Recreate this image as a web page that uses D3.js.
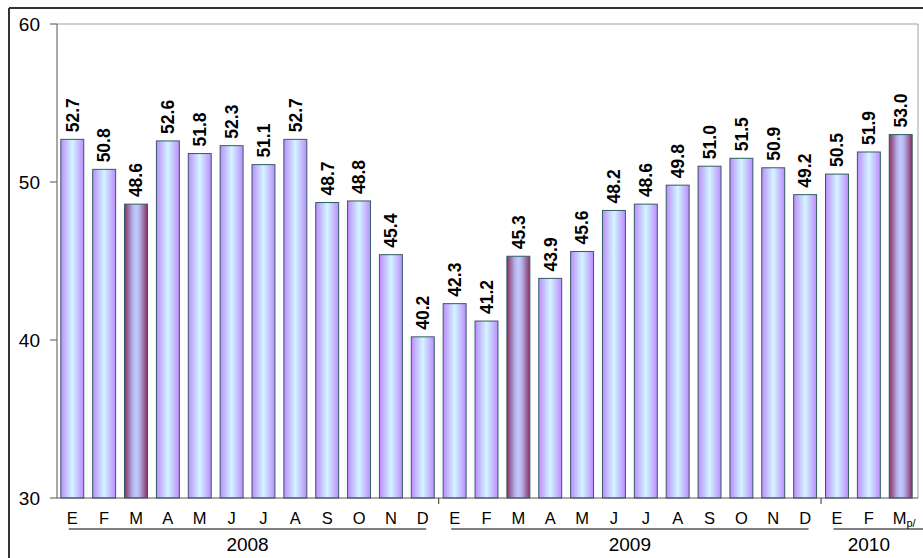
<!DOCTYPE html>
<html lang="en">
<head>
    <meta charset="UTF-8">
    <title>Bar Chart 2008-2010</title>
    <script src="https://d3js.org/d3.v7.min.js"></script>
    <style>
        body { margin: 0; background: #fff; }
        svg { display: block; font-family: "Liberation Sans", Arial, sans-serif; }
        .value-label { font-size: 17.5px; font-weight: bold; fill: #000; }
        .month-label { font-size: 16.5px; fill: #000; }
        .year-label { font-size: 19px; fill: #000; }
        .y-tick text { font-size: 19px; fill: #000; }
    </style>
</head>
<body>
<svg width="923" height="558"></svg>
<script>
    // Data
    const months = ["E","F","M","A","M","J","J","A","S","O","N","D",
                    "E","F","M","A","M","J","J","A","S","O","N","D",
                    "E","F","M"];
    const values = [52.7, 50.8, 48.6, 52.6, 51.8, 52.3, 51.1, 52.7, 48.7, 48.8, 45.4, 40.2,
                    42.3, 41.2, 45.3, 43.9, 45.6, 48.2, 48.6, 49.8, 51.0, 51.5, 50.9, 49.2,
                    50.5, 51.9, 53.0];
    const highlighted = [2, 14, 26];
    const years = ["2008", "2009", "2010"];
    const yearStart = [0, 12, 24];
    const yearCount = [12, 12, 3];
    const yTicks = [30, 40, 50, 60];

    const svg = d3.select("svg");
    const plotLeft = 57, plotRight = 916, plotTop = 24, plotBottom = 498;

    const x = d3.scaleBand()
        .domain(d3.range(values.length))
        .range([plotLeft, plotRight])
        .paddingInner(0.28)
        .paddingOuter(0.12);
    const y = d3.scaleLinear().domain([30, 60]).range([plotBottom, plotTop]);

    // Gradients (horizontal, light centre)
    const defs = svg.append("defs");
    function addGradient(id, stops) {
        const g = defs.append("linearGradient").attr("id", id)
            .attr("x1", "0%").attr("x2", "100%").attr("y1", "0%").attr("y2", "0%");
        stops.forEach(s => g.append("stop").attr("offset", s[0]).attr("stop-color", s[1]));
    }
    addGradient("gNormal", [["0%", "#bd8cff"], ["50%", "#d2f6ff"], ["100%", "#bd8cff"]]);
    addGradient("gHi", [["0%", "#883062"], ["35%", "#b4b2ec"], ["50%", "#c2caf8"],
                        ["65%", "#b4b2ec"], ["100%", "#883062"]]);

    // Outer frame (only top and left edges visible)
    svg.append("line").attr("x1", 9).attr("x2", 923).attr("y1", 8).attr("y2", 8)
        .attr("stroke", "#333").attr("stroke-width", 2);
    svg.append("line").attr("x1", 9).attr("x2", 9).attr("y1", 8).attr("y2", 558)
        .attr("stroke", "#333").attr("stroke-width", 2);

    // Plot area border (top and right)
    svg.append("path")
        .attr("d", `M${plotLeft},${plotTop}H${plotRight + 2}V${plotBottom}`)
        .attr("fill", "none").attr("stroke", "#a0a0a0").attr("stroke-width", 1);

    // Bars
    svg.selectAll(".bar")
        .data(values)
        .enter().append("rect")
        .attr("class", "bar")
        .attr("x", (d, i) => x(i))
        .attr("width", x.bandwidth())
        .attr("y", d => y(d))
        .attr("height", d => plotBottom - y(d))
        .attr("fill", (d, i) => highlighted.includes(i) ? "url(#gHi)" : "url(#gNormal)")
        .attr("stroke", "#2f5f5f")
        .attr("stroke-width", 1);

    // Value labels
    svg.selectAll(".value-label")
        .data(values)
        .enter().append("text")
        .attr("class", "value-label")
        .attr("transform", (d, i) => `translate(${x(i) + x.bandwidth() / 2},${y(d) - 7}) rotate(-90)`)
        .attr("dy", "0.36em")
        .text(d => d.toFixed(1));

    // Y axis
    svg.append("line").attr("x1", plotLeft).attr("x2", plotLeft).attr("y1", plotTop).attr("y2", plotBottom)
        .attr("stroke", "#555");
    const yt = svg.selectAll(".y-tick").data(yTicks).enter().append("g").attr("class", "y-tick");
    yt.append("line").attr("x1", plotLeft - 7).attr("x2", plotLeft)
        .attr("y1", d => y(d)).attr("y2", d => y(d)).attr("stroke", "#555");
    yt.append("text").attr("x", plotLeft - 17).attr("y", d => y(d)).attr("dy", "0.36em")
        .attr("text-anchor", "end").text(d => d);

    // X axis
    svg.append("line").attr("x1", plotLeft).attr("x2", plotRight + 2).attr("y1", plotBottom).attr("y2", plotBottom)
        .attr("stroke", "#555");

    svg.selectAll(".month-label")
        .data(months)
        .enter().append("text")
        .attr("class", "month-label")
        .attr("x", (d, i) => x(i) + x.bandwidth() / 2)
        .attr("y", 524)
        .attr("text-anchor", "middle")
        .text(d => d);

    // subscript on the last month
    const lastLabel = svg.selectAll(".month-label").filter((d, i) => i === months.length - 1);
    lastLabel.attr("text-anchor", "start")
        .attr("x", x(months.length - 1) + x.bandwidth() / 2 - 8)
        .append("tspan").attr("dy", 3).style("font-size", "11px").text("p/");

    // Year boundary ticks
    const boundaries = yearStart.slice(1).map(s => x(s) - x.step() * x.paddingInner() / 2);
    svg.selectAll(".year-tick").data(boundaries).enter().append("line")
        .attr("x1", d => d).attr("x2", d => d)
        .attr("y1", plotBottom).attr("y2", plotBottom + 6)
        .attr("stroke", "#333");

    // Year groups: underline + label
    years.forEach((yr, k) => {
        const s = yearStart[k], e = s + yearCount[k] - 1;
        const x0 = x(s) + 8;
        const x1 = k === years.length - 1 ? 925 : x(e) + x.bandwidth() - 8;
        svg.append("line").attr("x1", x0).attr("x2", x1).attr("y1", 529).attr("y2", 529)
            .attr("stroke", "#000").attr("stroke-width", 1.2);
        const cx = (x(s) + x(e) + x.bandwidth()) / 2;
        svg.append("text").attr("class", "year-label")
            .attr("x", cx).attr("y", 551).attr("text-anchor", "middle").text(yr);
    });
</script>
</body>
</html>
